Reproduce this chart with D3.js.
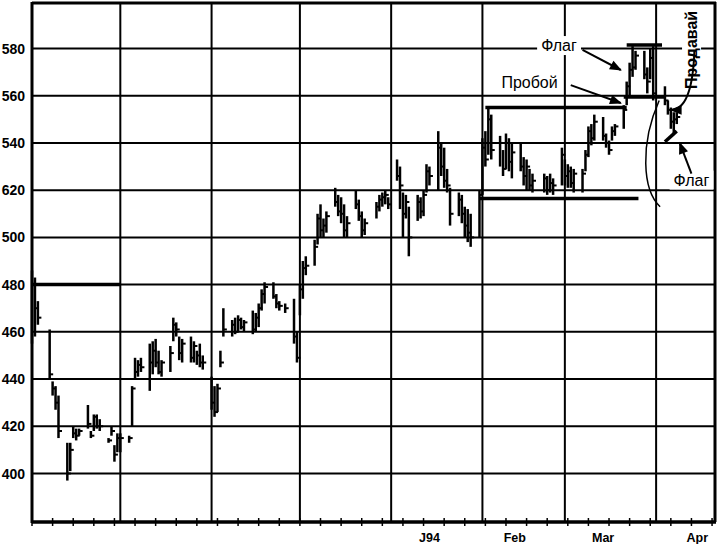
<!DOCTYPE html>
<html><head><meta charset="utf-8">
<script src="https://cdn.jsdelivr.net/npm/d3@7"></script>
<style>body{margin:0;background:#fff}svg{display:block}</style>
</head><body>
<svg id="c" width="719" height="544"></svg>
<script>
// ---------- DATA ----------
const firstDay = "1993-09-01";
const lastDay = "1994-04-08";
const holidays = ["1993-09-06","1993-11-25","1993-12-24","1994-02-21","1994-04-01"];

const highs = [
 486,483,473,461,439,437,433,413,413,420,419,419,429,418,425,425,423,415,420,412,417,
 417,416,437,449,448,449,455,456,457,452,448,454,466,464,458,457,458,456,452,455,450,
 441,437,438,452,470,465,466,467,466,465,469,468,472,478,481,481,476,473,472,474,460,
 480,490,492,499,510,514,508,511,521,518,517,514,509,520,516,511,508,515,518,519,520,517,
 533,530,519,518,513,518,517,520,531,530,545,540,538,529,521,519,518,513,512,510,520,
 542,545,555,552,543,537,544,542,540,540,534,533,529,527,527,526,527,525,538,
 533,531,530,529,529,537,547,548,552,551,544,541,547,548,556,566,574,581,579,579,572,580,581,
 564,558,555,553,553
];
const lows = [
 455,458,463,440,433,427,415,397,401,415,414,416,419,415,418,419,418,413,416,405,409,
 409,413,420,440,441,443,435,442,445,442,441,443,456,458,448,447,447,447,446,445,444,
 427,424,426,445,458,458,459,460,461,460,459,460,462,469,472,474,470,469,468,455,447,
 467,474,484,488,497,500,500,502,513,509,506,500,500,512,507,500,501,508,511,513,514,512,
 524,512,500,508,492,507,508,509,519,522,520,526,521,519,505,509,506,500,498,496,500,
 518,530,535,533,530,526,529,528,525,528,522,520,520,519,519,518,519,518,522,
 522,521,521,519,519,528,534,539,541,541,538,535,541,543,546,556,560,568,571,567,561,567,558,
 556,552,546,544,548
];
const closes = [
 480,470,466,442,436,430,418,400,410,417,416,418,421,416,424,420,420,414,418,408,415,
 415,415,436,443,446,445,447,452,447,443,447,451,463,461,451,455,449,454,450,447,447,
 430,426,436,447,461,463,460,465,462,464,461,466,470,476,479,475,472,471,470,458,449,
 478,487,488,496,508,503,505,509,515,511,510,503,506,514,509,503,506,513,516,517,518,514,
 526,522,510,515,500,515,511,518,528,526,538,530,524,522,510,516,510,505,502,500,518,
 538,533,550,537,540,529,540,532,536,530,526,530,522,524,525,520,523,522,535,
 526,528,523,527,527,535,545,542,549,543,540,537,545,547,554,564,571,572,577,569,566,576,561,
 558,554,549,550,551
];

const priceTicks = [400,420,440,460,480,500,520,540,560,580];
const priceTickLabels = ["400","420","440","460","480","500","620","540","560","580"];
const monthLabels = ["J94","Feb","Mar","Apr"];
const monthLabelDates = ["1994-01-14","1994-02-12","1994-03-14","1994-04-15"];

// annotation levels: [from, to, price, (endPrice)]
const levelLines = [
 ["1993-09-01","1993-10-01",480],
 ["1994-01-31","1994-03-26",516.5],
 ["1994-02-02","1994-03-22",555],
 ["1994-03-22","1994-04-03",581.5],
 ["1994-03-21","1994-04-04",559.5],
 ["1994-04-04","1994-04-08",540.5,545]
];
const labelTexts = ["Флаг","Пробой","Продавай","Флаг"];
const labelAnchors = [["1994-02-27",581.3],["1994-02-17",565.8],["1994-04-13",579.4],["1994-04-13",524.3]];
// arrows: [fromDate, fromPrice, toDate, toPrice]
const arrows = [
 ["1994-03-07",579.4,"1994-03-20",570.9],
 ["1994-03-03",564.5,"1994-03-20",556.9],
 ["1994-04-14",579.0,"1994-04-06",554.0],
 ["1994-04-13",527.0,"1994-04-09",540.0]
];

// ---------- CHART ----------
const parse = d3.timeParse("%Y-%m-%d");
const fmt = d3.timeFormat("%Y-%m-%d");
const hol = new Set(holidays);
const days = d3.timeDay.range(parse(firstDay), d3.timeDay.offset(parse(lastDay),1))
  .filter(d => d.getDay()>0 && d.getDay()<6 && !hol.has(fmt(d)));
const bars = days.map((d,i)=>({date:d,h:highs[i],l:lows[i],c:closes[i]}));

const svg = d3.select("#c");
const L=32, R=715, T=2, B=522;
const x = d3.scaleTime().domain([parse("1993-09-01"), parse("1994-04-21")]).range([L,R]);
const y = d3.scaleLinear().domain([380,600]).range([520.7,1.3]);
const FONT = "Liberation Sans, Arial, sans-serif";

svg.append("rect").attr("width",719).attr("height",544).attr("fill","#fff");

// horizontal grid
svg.append("g").selectAll("line").data(priceTicks).join("line")
  .attr("x1",L).attr("x2",R).attr("y1",d=>y(d)).attr("y2",d=>y(d))
  .attr("stroke","#000").attr("stroke-width",2);
// vertical month grid
const months = d3.timeMonth.range(parse("1993-10-01"), parse("1994-04-02"));
svg.append("g").selectAll("line").data(months).join("line")
  .attr("x1",d=>x(d)).attr("x2",d=>x(d)).attr("y1",T).attr("y2",B)
  .attr("stroke","#000").attr("stroke-width",2);

// frame
const frame = svg.append("g").attr("stroke","#000").attr("fill","none");
frame.append("line").attr("x1",L).attr("x2",R+1).attr("y1",T+1).attr("y2",T+1).attr("stroke-width",3);
frame.append("line").attr("x1",R).attr("x2",R).attr("y1",T).attr("y2",B).attr("stroke-width",3);
frame.append("line").attr("x1",L).attr("x2",L).attr("y1",T).attr("y2",B+1).attr("stroke-width",3);
frame.append("line").attr("x1",L).attr("x2",R+1).attr("y1",B).attr("y2",B).attr("stroke-width",3.5);

// weekly ticks on x axis
const weeks = d3.timeWednesday.range(parse("1993-09-01"), parse("1994-04-21"));
svg.append("g").selectAll("line").data(weeks).join("line")
  .attr("x1",d=>x(d)).attr("x2",d=>x(d)).attr("y1",B-4).attr("y2",B+4)
  .attr("stroke","#000").attr("stroke-width",1.5);

// y labels
svg.append("g").selectAll("text").data(priceTicks).join("text")
  .attr("x",25).attr("y",d=>y(d)).attr("dy","0.36em").attr("text-anchor","end")
  .attr("font-family",FONT).attr("font-weight","bold")
  .attr("font-size",14).text((d,i)=>priceTickLabels[i]);

// month labels
svg.append("g").selectAll("text").data(monthLabels).join("text")
  .attr("x",(d,i)=>x(parse(monthLabelDates[i]))).attr("y",542).attr("text-anchor","middle")
  .attr("font-family",FONT).attr("font-weight","bold")
  .attr("font-size",12.5).text(d=>d);

// bars
const g = svg.append("g").attr("stroke","#000").attr("stroke-width",2.5);
g.selectAll("line.hl").data(bars).join("line").attr("class","hl")
  .attr("x1",d=>x(d.date)).attr("x2",d=>x(d.date)).attr("y1",d=>y(d.h)).attr("y2",d=>y(d.l));
g.selectAll("line.cl").data(bars).join("line").attr("class","cl").attr("stroke-width",2)
  .attr("x1",d=>x(d.date)).attr("x2",d=>x(d.date)+3.5).attr("y1",d=>y(d.c)).attr("y2",d=>y(d.c));

// level lines
svg.append("g").selectAll("line").data(levelLines).join("line")
  .attr("x1",d=>x(parse(d[0]))).attr("x2",d=>x(parse(d[1])))
  .attr("y1",d=>y(d[2])).attr("y2",d=>y(d.length>3?d[3]:d[2]))
  .attr("stroke","#000").attr("stroke-width",3.5);

// curved line near April gridline
const ax = x(parse("1994-04-01"));
svg.append("path")
  .attr("d",`M${x(parse("1994-03-31"))+6},${y(558)} C${ax-16},${y(540)} ${ax-14},${y(520)} ${ax+4},${y(513)}`)
  .attr("fill","none").attr("stroke","#000").attr("stroke-width",1.5);

// labels with white box
const lab = svg.append("g").attr("font-family",FONT);
labelTexts.forEach((t,i)=>{
  const px = x(parse(labelAnchors[i][0])), py = y(labelAnchors[i][1]);
  const grp = lab.append("g").attr("transform", i===2?`translate(${px},${py}) rotate(-90)`:`translate(${px},${py})`);
  const box = grp.append("rect").attr("fill","#fff");
  const tx = grp.append("text").attr("text-anchor","middle").attr("dy","0.35em")
    .attr("font-size",16).attr("font-weight",i===2?"bold":"normal").text(t);
  const bb = tx.node().getBBox();
  box.attr("x",bb.x-4).attr("y",bb.y-1).attr("width",bb.width+8).attr("height",bb.height+2);
});

// arrows
svg.append("defs").append("marker").attr("id","ah").attr("viewBox","0 0 10 10")
  .attr("refX",9).attr("refY",5).attr("markerWidth",7).attr("markerHeight",6)
  .attr("orient","auto").append("path").attr("d","M0,1 L10,5 L0,9 Z").attr("fill","#000");
svg.append("g").selectAll("path").data(arrows).join("path")
  .attr("d",(d,i)=>{
    const x1=x(parse(d[0])),y1=y(d[1]),x2=x(parse(d[2])),y2=y(d[3]);
    if(i===2) return `M${x1},${y1} Q${x1-2},${y2} ${x2},${y2}`;
    return `M${x1},${y1} L${x2},${y2}`;
  })
  .attr("fill","none").attr("stroke","#000").attr("stroke-width",2).attr("marker-end","url(#ah)");
</script>
</body></html>
